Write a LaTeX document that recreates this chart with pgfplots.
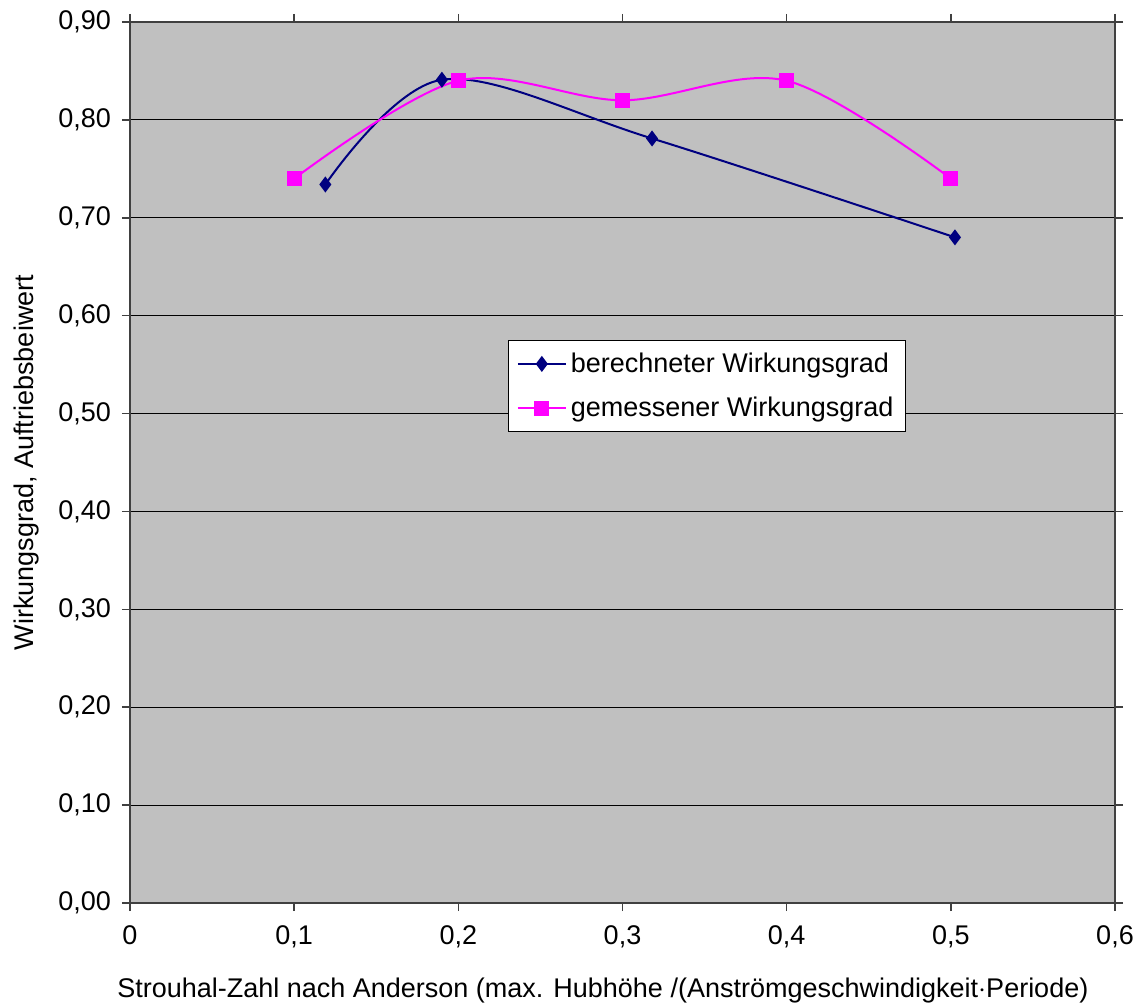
\documentclass[border=0pt]{standalone}
\usepackage{fontspec}
\setmainfont{Liberation Sans}
\usepackage{pgfplots}
\pgfplotsset{compat=1.18}
\definecolor{bgc}{HTML}{C0C0C0}
\definecolor{navy}{HTML}{000080}
\definecolor{mag}{HTML}{FF00FF}
\begin{document}
\begin{tikzpicture}
\useasboundingbox (-65pt,-51.5pt) rectangle (504pt,451.5pt);
\begin{axis}[
  scale only axis,
  width=492.5pt, height=440.5pt,
  xmin=0, xmax=0.6, ymin=0, ymax=0.9,
  xtick={0,0.1,0.2,0.3,0.4,0.5,0.6},
  ytick={0,0.1,0.2,0.3,0.4,0.5,0.6,0.7,0.8,0.9},
  axis background/.style={fill=bgc},
  axis line style={draw=black!75, line width=0.8pt},
  ymajorgrids, grid style={black, line width=0.6pt},
  tick align=outside, tick style={black!75, line width=0.8pt},
  major tick length=4pt,
  xticklabel style={/pgf/number format/use comma, /pgf/number format/fixed, /pgf/number format/precision=1, /pgf/number format/assume math mode=true, yshift=-4pt},
  yticklabel style={/pgf/number format/use comma, /pgf/number format/fixed, /pgf/number format/fixed zerofill, /pgf/number format/precision=2, /pgf/number format/assume math mode=true, xshift=-2pt},
  tick label style={font=\fontsize{13.5}{16}\selectfont},
  xlabel={Strouhal-Zahl nach Anderson (max. Hubhöhe /(Anströmgeschwindigkeit$\cdot$Periode)},
  ylabel={Wirkungsgrad, Auftriebsbeiwert},
  label style={font=\fontsize{13.5}{16}\selectfont},
  xlabel style={at={(rel axis cs:0.48,0)}, anchor=north, yshift=-34pt},
  ylabel style={at={(rel axis cs:0,0.5)}, anchor=south, yshift=42pt},
  legend style={at={(rel axis cs:0.384,0.639)}, anchor=north west, draw=black, fill=white,
    font=\fontsize{13.5}{16}\selectfont, row sep=7pt, inner xsep=4pt, inner ysep=4pt, line width=0.6pt},
  legend cell align=left,
  legend image code/.code={\draw[#1] (0pt,0pt) -- (12pt,0pt) (12pt,0pt) -- (24pt,0pt); \draw[#1, only marks] plot coordinates {(12pt,0pt)};},
]
\addplot[navy, line width=1pt, smooth, tension=0.55, mark=diamond*, mark size=3.2pt, mark options={fill=navy, solid}]
  coordinates {(0.119,0.734) (0.19,0.841) (0.318,0.781) (0.5025,0.680)};
\addlegendentry{berechneter Wirkungsgrad}
\addplot[mag, line width=1pt, smooth, tension=0.55, mark=square*, mark size=3.3pt, mark options={fill=mag, solid}]
  coordinates {(0.1,0.74) (0.2,0.84) (0.3,0.82) (0.4,0.84) (0.5,0.74)};
\addlegendentry{gemessener Wirkungsgrad}
\end{axis}
\end{tikzpicture}
\end{document}
